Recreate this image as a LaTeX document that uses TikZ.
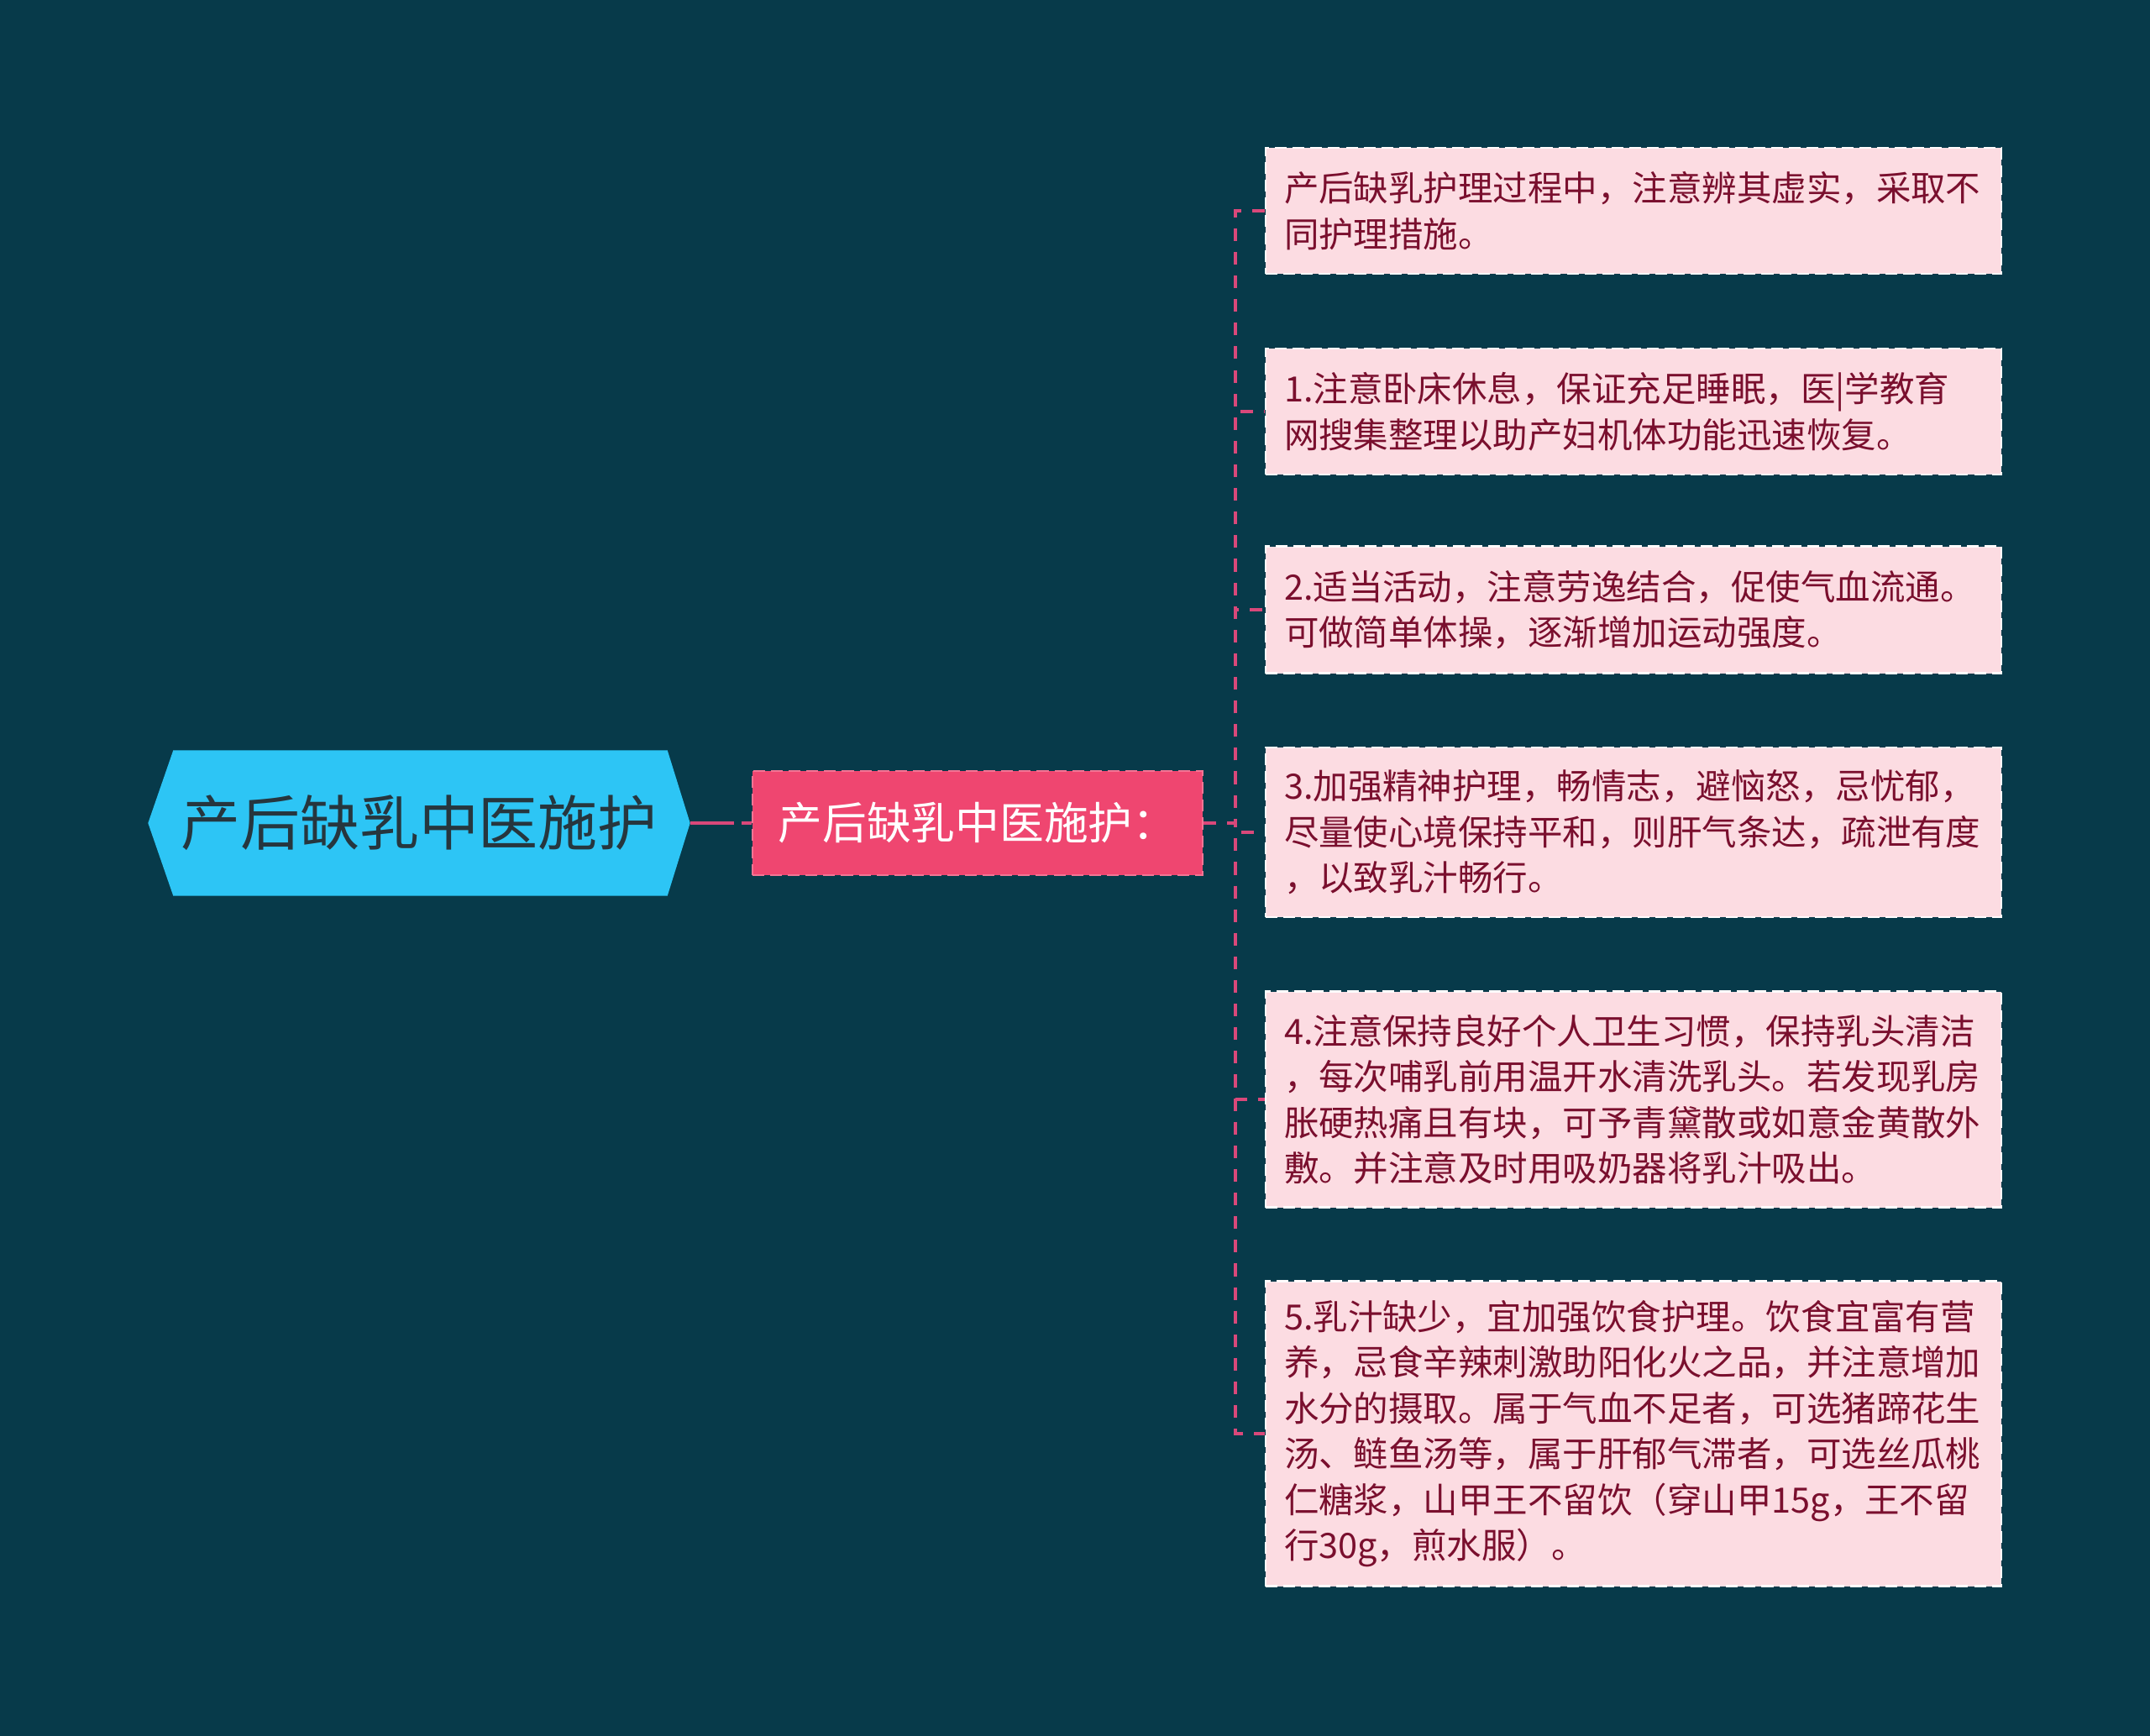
\documentclass[tikz,border=0pt]{standalone}
\usepackage{fontspec}
\setmainfont{Noto Sans CJK SC}
\usepackage{xcolor}
\usetikzlibrary{backgrounds}

\definecolor{bgteal}{HTML}{073A4A}
\definecolor{rootcyan}{HTML}{2DC5F5}
\definecolor{roottext}{HTML}{26363E}
\definecolor{midpink}{HTML}{EF4670}
\definecolor{leafpink}{HTML}{FCDCE2}
\definecolor{leaftext}{HTML}{7A0F2E}
\definecolor{linkpink}{HTML}{D9487A}

\tikzset{
  root/.style={text=roottext, minimum width=6.44cm, minimum height=1.72cm, inner sep=0pt, font=\fontsize{20.2pt}{24pt}\selectfont},
  midbox/.style={fill=midpink, draw=midpink!75!white, line width=0.6pt, dash pattern=on 4pt off 2pt, text=white, minimum width=5.36cm, minimum height=1.24cm, inner sep=0pt, font=\fontsize{15pt}{18pt}\selectfont},
  leaf/.style={fill=leafpink, draw=white!92!leafpink, line width=0.6pt, dash pattern=on 4pt off 2pt, text=leaftext, text width=8.32cm, align=left, inner xsep=0.22cm, inner ysep=0pt, font=\fontsize{11.8pt}{15.5pt}\selectfont},
  link/.style={draw=linkpink, line width=0.95pt, dash pattern=on 4.3pt off 3.7pt},
  rootlink/.style={link, line width=1.2pt, dash pattern=on 14.8pt off 2.6pt},
}

\begin{document}
\begin{tikzpicture}
	\useasboundingbox (0,0) rectangle (25.6,-20.67);
	\node [root] (root) at (4.99,-9.80) {产后缺乳中医施护};
	\node [midbox] (mid) at (11.64,-9.80) {产后缺乳中医施护：};
	\coordinate (bus) at (14.71,-9.80);
	\node [leaf, minimum height=1.50cm] (l1) at (19.45,-2.51) {产后缺乳护理过程中，注意辨其虚实，采取不\\同护理措施。};
	\node [leaf, minimum height=1.50cm] (l2) at (19.45,-4.90) {1.注意卧床休息，保证充足睡眠，医|学教育\\网搜集整理以助产妇机体功能迅速恢复。};
	\node [leaf, minimum height=1.51cm] (l3) at (19.45,-7.26) {2.适当活动，注意劳逸结合，促使气血流通。\\可做简单体操，逐渐增加运动强度。};
	\node [leaf, minimum height=2.02cm] (l4) at (19.45,-9.91) {3.加强精神护理，畅情志，避恼怒，忌忧郁，\\尽量使心境保持平和，则肝气条达，疏泄有度\\，以致乳汁畅行。};
	\node [leaf, minimum height=2.57cm] (l5) at (19.45,-13.09) {4.注意保持良好个人卫生习惯，保持乳头清洁\\，每次哺乳前用温开水清洗乳头。若发现乳房\\胀硬热痛且有块，可予青黛散或如意金黄散外\\敷。并注意及时用吸奶器将乳汁吸出。};
	\node [leaf, minimum height=3.63cm] (l6) at (19.45,-17.07) {5.乳汁缺少，宜加强饮食护理。饮食宜富有营\\养，忌食辛辣刺激助阳化火之品，并注意增加\\水分的摄取。属于气血不足者，可选猪蹄花生\\汤、鲢鱼汤等，属于肝郁气滞者，可选丝瓜桃\\仁糖浆，山甲王不留饮（穿山甲15g，王不留\\行30g，煎水服）。};
	\draw [rootlink] (root.east) -- (mid.west);
	\foreach \l in {l1,l2,l3,l4,l5,l6}
		\draw [link] (mid.east) -- (mid.east -| bus) |- (\l.west);
	\begin{scope}[on background layer]
		\fill [bgteal] (0,0) rectangle (25.6,-20.67);
		\fill [rootcyan] (root.west) -- ([xshift=0.30cm]root.north west) -- ([xshift=-0.27cm]root.north east)
			-- (root.east) -- ([xshift=-0.27cm]root.south east) -- ([xshift=0.30cm]root.south west) -- cycle;
	\end{scope}
\end{tikzpicture}
\end{document}
